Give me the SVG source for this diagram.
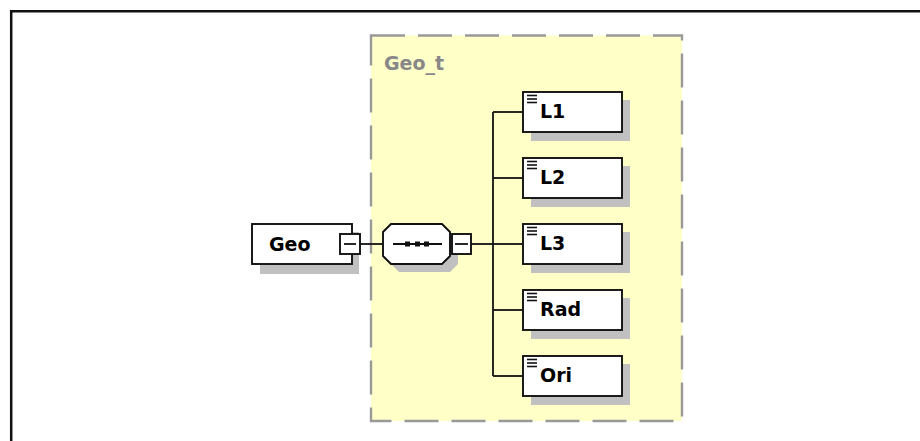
<svg xmlns="http://www.w3.org/2000/svg" width="920" height="441" viewBox="0 0 920 441">
<defs>
<style>
.frame{fill:none;stroke:#111;stroke-width:2.5}
.grp{fill:#ffffc8;stroke:#999;stroke-width:2.4;stroke-dasharray:34 13}
.shadow{fill:#c0c0c0;stroke:none}
.box{fill:#fff;stroke:#111;stroke-width:1.9}
.wire{fill:none;stroke:#111;stroke-width:1.8}
.lbl{font-family:"DejaVu Sans",sans-serif;font-weight:bold;font-size:19px;fill:#000}
.glbl{font-family:"DejaVu Sans",sans-serif;font-weight:bold;font-size:19px;fill:#888}
.icon{stroke:#111;stroke-width:1.6}
</style>
<g id="elem-icon">
<line class="icon" x1="527" y1="95.5" x2="537" y2="95.5"/>
<line class="icon" x1="527" y1="99" x2="537" y2="99"/>
<line class="icon" x1="527" y1="102.5" x2="537" y2="102.5"/>
</g>
</defs>
<rect width="920" height="441" fill="#fff"/>
<path class="frame" d="M11.2 441 V11.2 H920"/>

<g id="Geo_t">
<rect class="grp" x="371" y="35.5" width="311" height="385.5"/>
<text class="glbl" x="384" y="70">Geo_t</text>
</g>

<g id="connectors">
<line class="wire" x1="360" y1="244" x2="383" y2="244"/>
<line class="wire" x1="471" y1="244" x2="493" y2="244"/>
<line class="wire" x1="493" y1="112" x2="493" y2="376"/>
<line class="wire" x1="493" y1="112" x2="523" y2="112"/>
<line class="wire" x1="493" y1="178" x2="523" y2="178"/>
<line class="wire" x1="493" y1="244" x2="523" y2="244"/>
<line class="wire" x1="493" y1="310" x2="523" y2="310"/>
<line class="wire" x1="493" y1="376" x2="523" y2="376"/>
</g>

<g id="Geo">
<rect class="shadow" x="260" y="232" width="99" height="42"/>
<rect class="box" x="252" y="224" width="100" height="40"/>
<text class="lbl" x="269" y="251">Geo</text>
<rect class="box" x="340" y="234" width="20" height="20"/>
<line class="wire" x1="344" y1="244" x2="356" y2="244"/>
</g>

<g id="sequence">
<polygon class="shadow" points="399,232 450,232 458,240 458,264 450,272 399,272 391,264 391,240"/>
<polygon class="box" points="391,224 442,224 450,232 450,256 442,264 391,264 383,256 383,232"/>
<line class="wire" x1="393" y1="244" x2="442" y2="244"/>
<rect x="405" y="241.5" width="5" height="5" fill="#111"/>
<rect x="415" y="241.5" width="5" height="5" fill="#111"/>
<rect x="424" y="241.5" width="5" height="5" fill="#111"/>
<rect class="box" x="452" y="234" width="19" height="20"/>
<line class="wire" x1="455" y1="244" x2="468" y2="244"/>
</g>

<g id="L1">
<rect class="shadow" x="531" y="100" width="99" height="41"/>
<rect class="box" x="523" y="92" width="99" height="40"/>
<use href="#elem-icon"/>
<text class="lbl" x="540" y="118">L1</text>
</g>

<g id="L2">
<rect class="shadow" x="531" y="166" width="99" height="41"/>
<rect class="box" x="523" y="158" width="99" height="40"/>
<use href="#elem-icon" y="66"/>
<text class="lbl" x="540" y="184">L2</text>
</g>

<g id="L3">
<rect class="shadow" x="531" y="232" width="99" height="41"/>
<rect class="box" x="523" y="224" width="99" height="40"/>
<use href="#elem-icon" y="132"/>
<text class="lbl" x="540" y="250">L3</text>
</g>

<g id="Rad">
<rect class="shadow" x="531" y="298" width="99" height="41"/>
<rect class="box" x="523" y="290" width="99" height="40"/>
<use href="#elem-icon" y="198"/>
<text class="lbl" x="540" y="316">Rad</text>
</g>

<g id="Ori">
<rect class="shadow" x="531" y="364" width="99" height="41"/>
<rect class="box" x="523" y="356" width="99" height="40"/>
<use href="#elem-icon" y="264"/>
<text class="lbl" x="540" y="382">Ori</text>
</g>
</svg>
